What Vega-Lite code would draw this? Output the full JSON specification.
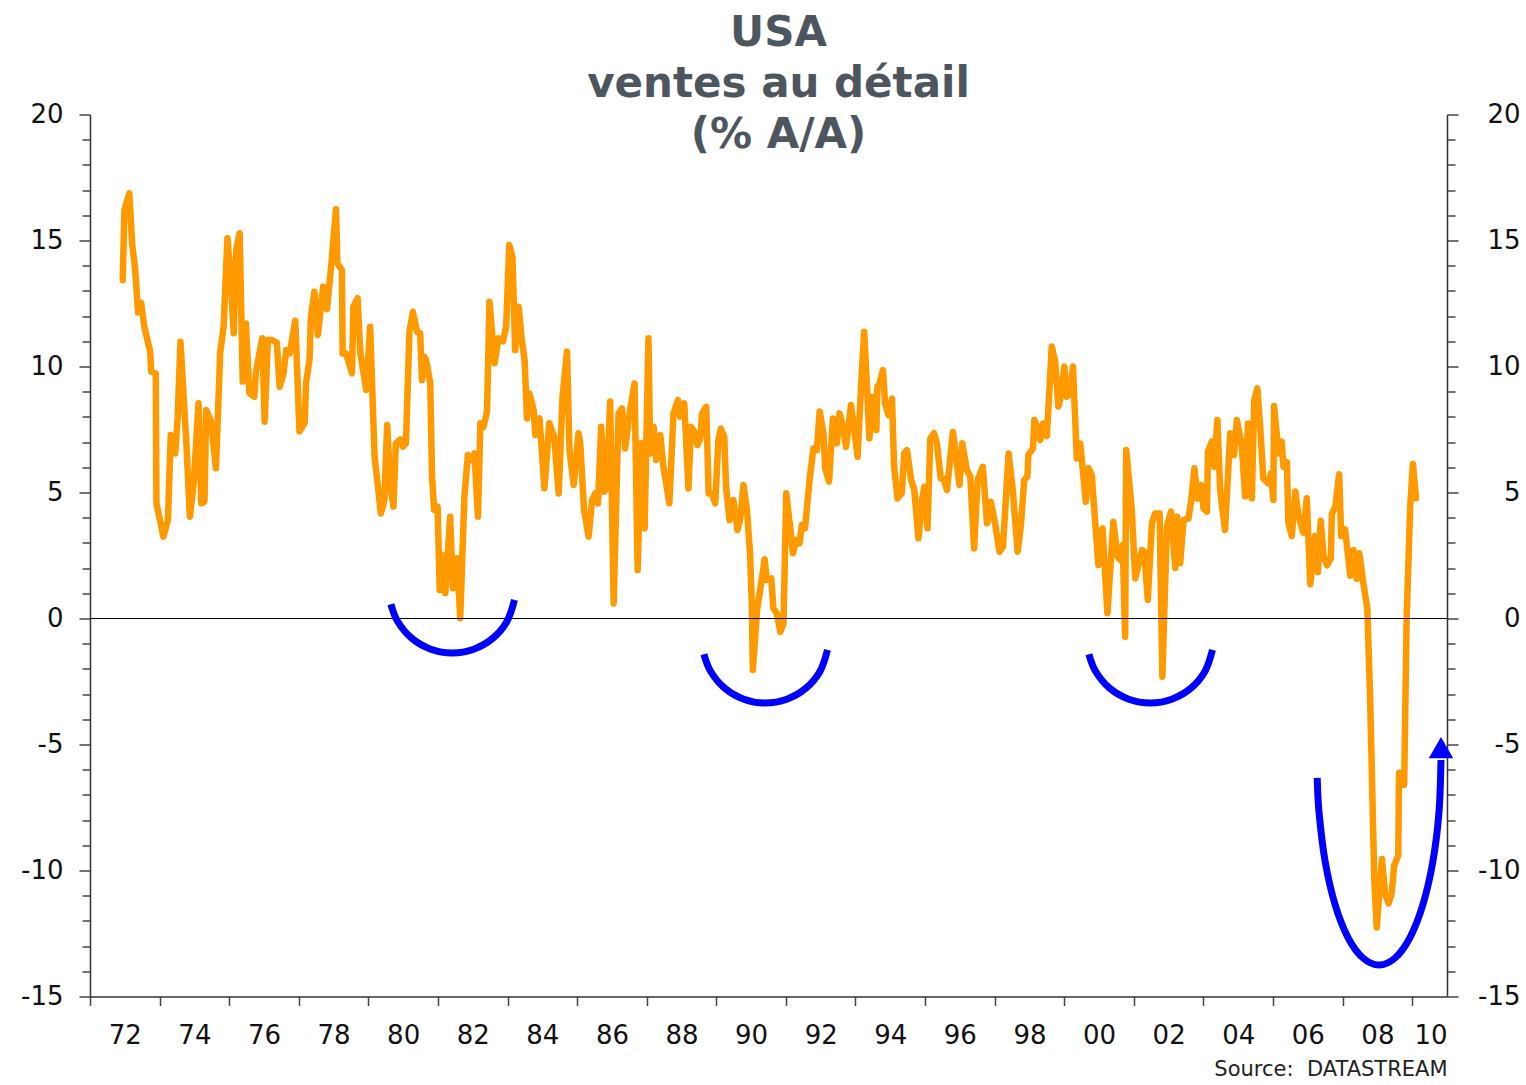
{
  "$schema": "https://vega.github.io/schema/vega-lite/v6.json",
  "width": 1357,
  "height": 882,
  "autosize": {"type": "none"},
  "padding": {"left": 90, "top": 114.5, "right": 79, "bottom": 88.5},
  "background": "white",
  "title": {
    "text": ["USA", "ventes au détail", "(% A/A)"],
    "font": "DejaVu Sans",
    "fontSize": 42,
    "fontWeight": "bold",
    "color": "#4d565e",
    "lineHeight": 51,
    "anchor": "middle",
    "frame": "group",
    "baseline": "alphabetic",
    "offset": 0,
    "dx": 10,
    "dy": 88
  },
  "datasets": {
    "sales": [
      {"t":1972.94,"v":13.43},{"t":1972.99,"v":16.21},{"t":1973.13,"v":16.87},{"t":1973.21,"v":14.89},{"t":1973.30,"v":13.83},{"t":1973.38,"v":12.14},{"t":1973.47,"v":12.53},{"t":1973.56,"v":11.58},{"t":1973.73,"v":10.59},{"t":1973.76,"v":9.79},{"t":1973.89,"v":9.73},{"t":1973.91,"v":4.57},{"t":1973.97,"v":4.17},{"t":1974.11,"v":3.25},{"t":1974.24,"v":3.91},{"t":1974.32,"v":7.28},{"t":1974.45,"v":6.55},{"t":1974.52,"v":8.0},{"t":1974.60,"v":10.98},{"t":1974.77,"v":6.95},{"t":1974.87,"v":4.04},{"t":1974.98,"v":5.37},{"t":1975.12,"v":8.54},{"t":1975.20,"v":4.57},{"t":1975.29,"v":4.64},{"t":1975.34,"v":8.27},{"t":1975.48,"v":7.81},{"t":1975.62,"v":5.96},{"t":1975.74,"v":10.52},{"t":1975.84,"v":11.58},{"t":1975.95,"v":15.09},{"t":1976.05,"v":13.30},{"t":1976.13,"v":11.32},{"t":1976.20,"v":14.62},{"t":1976.30,"v":15.29},{"t":1976.39,"v":9.40},{"t":1976.48,"v":11.71},{"t":1976.58,"v":8.94},{"t":1976.72,"v":8.80},{"t":1976.77,"v":9.79},{"t":1976.95,"v":11.12},{"t":1977.02,"v":7.81},{"t":1977.11,"v":11.05},{"t":1977.23,"v":11.05},{"t":1977.37,"v":10.94},{"t":1977.45,"v":9.19},{"t":1977.56,"v":9.72},{"t":1977.64,"v":10.65},{"t":1977.74,"v":10.52},{"t":1977.90,"v":11.82},{"t":1978.02,"v":7.43},{"t":1978.17,"v":7.77},{"t":1978.21,"v":9.35},{"t":1978.31,"v":10.28},{"t":1978.35,"v":11.98},{"t":1978.45,"v":12.97},{"t":1978.55,"v":11.25},{"t":1978.70,"v":13.17},{"t":1978.81,"v":12.27},{"t":1978.93,"v":13.96},{"t":1979.07,"v":16.24},{"t":1979.11,"v":14.10},{"t":1979.24,"v":13.83},{"t":1979.26,"v":10.52},{"t":1979.36,"v":10.52},{"t":1979.53,"v":9.73},{"t":1979.57,"v":12.37},{"t":1979.69,"v":12.71},{"t":1979.77,"v":10.52},{"t":1979.94,"v":9.07},{"t":1980.05,"v":11.58},{"t":1980.18,"v":6.42},{"t":1980.36,"v":4.17},{"t":1980.46,"v":4.70},{"t":1980.54,"v":7.68},{"t":1980.63,"v":5.37},{"t":1980.72,"v":4.44},{"t":1980.79,"v":6.95},{"t":1980.92,"v":7.11},{"t":1980.99,"v":6.82},{"t":1981.08,"v":6.95},{"t":1981.18,"v":11.38},{"t":1981.28,"v":12.17},{"t":1981.40,"v":11.38},{"t":1981.49,"v":11.32},{"t":1981.54,"v":9.46},{"t":1981.61,"v":10.39},{"t":1981.66,"v":10.26},{"t":1981.78,"v":9.33},{"t":1981.83,"v":5.63},{"t":1981.89,"v":4.31},{"t":1981.99,"v":4.44},{"t":1982.05,"v":1.13},{"t":1982.11,"v":2.52},{"t":1982.21,"v":1.0},{"t":1982.35,"v":4.04},{"t":1982.43,"v":1.2},{"t":1982.55,"v":2.39},{"t":1982.64,"v":0.01},{"t":1982.76,"v":4.83},{"t":1982.86,"v":6.49},{"t":1982.98,"v":6.29},{"t":1983.05,"v":6.55},{"t":1983.15,"v":4.04},{"t":1983.22,"v":7.75},{"t":1983.31,"v":7.61},{"t":1983.41,"v":8.21},{"t":1983.48,"v":12.57},{"t":1983.63,"v":10.13},{"t":1983.74,"v":11.12},{"t":1983.87,"v":11.0},{"t":1983.96,"v":11.6},{"t":1984.05,"v":14.82},{"t":1984.14,"v":14.36},{"t":1984.22,"v":10.65},{"t":1984.32,"v":12.37},{"t":1984.41,"v":11.05},{"t":1984.49,"v":10.26},{"t":1984.56,"v":7.94},{"t":1984.63,"v":8.93},{"t":1984.75,"v":8.27},{"t":1984.80,"v":7.28},{"t":1984.92,"v":7.94},{"t":1985.06,"v":5.17},{"t":1985.20,"v":7.75},{"t":1985.34,"v":7.22},{"t":1985.47,"v":4.96},{"t":1985.58,"v":8.8},{"t":1985.71,"v":10.59},{"t":1985.78,"v":6.68},{"t":1985.90,"v":5.3},{"t":1986.04,"v":7.35},{"t":1986.09,"v":6.95},{"t":1986.20,"v":4.31},{"t":1986.33,"v":3.25},{"t":1986.43,"v":4.7},{"t":1986.52,"v":4.96},{"t":1986.60,"v":4.57},{"t":1986.69,"v":7.61},{"t":1986.78,"v":5.03},{"t":1986.84,"v":5.16},{"t":1986.95,"v":8.61},{"t":1987.05,"v":0.6},{"t":1987.19,"v":8.14},{"t":1987.29,"v":8.34},{"t":1987.38,"v":6.75},{"t":1987.53,"v":8.34},{"t":1987.65,"v":9.33},{"t":1987.74,"v":1.92},{"t":1987.84,"v":6.95},{"t":1987.94,"v":3.58},{"t":1988.05,"v":11.12},{"t":1988.10,"v":6.55},{"t":1988.20,"v":7.61},{"t":1988.27,"v":6.29},{"t":1988.39,"v":7.28},{"t":1988.48,"v":6.02},{"t":1988.65,"v":4.57},{"t":1988.77,"v":8.14},{"t":1988.90,"v":8.67},{"t":1988.96,"v":8.01},{"t":1989.08,"v":8.54},{"t":1989.20,"v":5.16},{"t":1989.27,"v":7.61},{"t":1989.37,"v":7.41},{"t":1989.46,"v":6.88},{"t":1989.54,"v":7.15},{"t":1989.59,"v":8.14},{"t":1989.71,"v":8.4},{"t":1989.78,"v":4.96},{"t":1989.87,"v":4.96},{"t":1989.97,"v":4.57},{"t":1990.06,"v":7.09},{"t":1990.13,"v":7.54},{"t":1990.23,"v":7.2},{"t":1990.28,"v":5.23},{"t":1990.38,"v":3.9},{"t":1990.49,"v":4.7},{"t":1990.61,"v":3.51},{"t":1990.69,"v":3.97},{"t":1990.78,"v":5.3},{"t":1990.88,"v":4.31},{"t":1990.97,"v":2.59},{"t":1991.02,"v":0.6},{"t":1991.05,"v":-2.04},{"t":1991.17,"v":0.33},{"t":1991.26,"v":1.13},{"t":1991.39,"v":2.35},{"t":1991.45,"v":1.53},{"t":1991.58,"v":1.59},{"t":1991.64,"v":0.4},{"t":1991.74,"v":0.2},{"t":1991.84,"v":-0.53},{"t":1991.93,"v":-0.2},{"t":1992.01,"v":4.97},{"t":1992.12,"v":3.65},{"t":1992.20,"v":2.59},{"t":1992.30,"v":3.12},{"t":1992.39,"v":2.98},{"t":1992.46,"v":3.71},{"t":1992.55,"v":3.58},{"t":1992.68,"v":5.5},{"t":1992.79,"v":6.75},{"t":1992.89,"v":6.68},{"t":1992.97,"v":8.21},{"t":1993.08,"v":7.35},{"t":1993.13,"v":5.96},{"t":1993.24,"v":5.43},{"t":1993.35,"v":7.94},{"t":1993.47,"v":6.95},{"t":1993.54,"v":8.14},{"t":1993.64,"v":7.61},{"t":1993.73,"v":6.81},{"t":1993.87,"v":8.47},{"t":1993.94,"v":7.75},{"t":1994.06,"v":6.42},{"t":1994.16,"v":9.2},{"t":1994.25,"v":11.38},{"t":1994.33,"v":9.2},{"t":1994.40,"v":7.15},{"t":1994.47,"v":8.8},{"t":1994.60,"v":7.48},{"t":1994.63,"v":9.2},{"t":1994.69,"v":9.33},{"t":1994.79,"v":9.86},{"t":1994.85,"v":8.54},{"t":1994.95,"v":8.07},{"t":1995.05,"v":8.73},{"t":1995.11,"v":6.02},{"t":1995.21,"v":4.76},{"t":1995.33,"v":4.96},{"t":1995.40,"v":6.55},{"t":1995.48,"v":6.68},{"t":1995.60,"v":5.5},{"t":1995.69,"v":5.1},{"t":1995.81,"v":3.18},{"t":1995.91,"v":4.7},{"t":1995.98,"v":5.23},{"t":1996.07,"v":3.58},{"t":1996.15,"v":7.15},{"t":1996.26,"v":7.35},{"t":1996.34,"v":6.95},{"t":1996.45,"v":5.56},{"t":1996.53,"v":5.56},{"t":1996.63,"v":5.1},{"t":1996.80,"v":7.4},{"t":1996.99,"v":5.3},{"t":1997.07,"v":6.95},{"t":1997.20,"v":5.89},{"t":1997.30,"v":5.63},{"t":1997.41,"v":2.78},{"t":1997.51,"v":5.5},{"t":1997.66,"v":6.02},{"t":1997.78,"v":3.78},{"t":1997.89,"v":4.63},{"t":1998.01,"v":3.78},{"t":1998.14,"v":2.65},{"t":1998.24,"v":2.85},{"t":1998.40,"v":6.55},{"t":1998.52,"v":5.1},{"t":1998.66,"v":2.65},{"t":1998.75,"v":3.65},{"t":1998.85,"v":5.5},{"t":1998.94,"v":5.63},{"t":1998.97,"v":6.49},{"t":1999.10,"v":6.75},{"t":1999.14,"v":7.88},{"t":1999.24,"v":7.55},{"t":1999.31,"v":7.08},{"t":1999.39,"v":7.74},{"t":1999.50,"v":7.24},{"t":1999.64,"v":10.79},{"t":1999.74,"v":10.19},{"t":1999.83,"v":8.41},{"t":1999.93,"v":9.0},{"t":2000.00,"v":10.0},{"t":2000.07,"v":8.8},{"t":2000.17,"v":8.93},{"t":2000.25,"v":10.0},{"t":2000.36,"v":6.35},{"t":2000.46,"v":6.95},{"t":2000.62,"v":4.63},{"t":2000.70,"v":5.96},{"t":2000.79,"v":5.7},{"t":2000.98,"v":2.12},{"t":2001.10,"v":3.57},{"t":2001.24,"v":0.21},{"t":2001.41,"v":3.84},{"t":2001.53,"v":2.46},{"t":2001.61,"v":2.33},{"t":2001.68,"v":2.92},{"t":2001.75,"v":-0.72},{"t":2001.78,"v":6.69},{"t":2001.94,"v":4.31},{"t":2002.04,"v":1.59},{"t":2002.13,"v":2.12},{"t":2002.23,"v":2.72},{"t":2002.30,"v":2.65},{"t":2002.40,"v":0.74},{"t":2002.52,"v":3.78},{"t":2002.61,"v":4.17},{"t":2002.74,"v":4.17},{"t":2002.82,"v":-2.31},{"t":2002.95,"v":3.65},{"t":2003.07,"v":4.24},{"t":2003.19,"v":2.0},{"t":2003.24,"v":4.04},{"t":2003.33,"v":2.19},{"t":2003.43,"v":3.91},{"t":2003.57,"v":3.97},{"t":2003.65,"v":4.7},{"t":2003.74,"v":5.96},{"t":2003.83,"v":4.76},{"t":2003.93,"v":5.3},{"t":2004.00,"v":4.37},{"t":2004.10,"v":4.24},{"t":2004.13,"v":6.62},{"t":2004.24,"v":7.02},{"t":2004.31,"v":6.02},{"t":2004.40,"v":7.88},{"t":2004.48,"v":5.1},{"t":2004.62,"v":3.51},{"t":2004.77,"v":7.35},{"t":2004.88,"v":6.49},{"t":2004.96,"v":7.88},{"t":2005.10,"v":6.88},{"t":2005.20,"v":4.84},{"t":2005.28,"v":7.74},{"t":2005.39,"v":4.77},{"t":2005.46,"v":8.67},{"t":2005.55,"v":9.13},{"t":2005.65,"v":7.22},{"t":2005.72,"v":5.56},{"t":2005.87,"v":5.36},{"t":2005.94,"v":5.76},{"t":2006.01,"v":4.7},{"t":2006.03,"v":8.43},{"t":2006.16,"v":6.55},{"t":2006.25,"v":7.02},{"t":2006.30,"v":6.02},{"t":2006.40,"v":6.2},{"t":2006.44,"v":3.81},{"t":2006.54,"v":3.27},{"t":2006.64,"v":5.04},{"t":2006.73,"v":4.08},{"t":2006.87,"v":3.41},{"t":2006.97,"v":4.77},{"t":2007.07,"v":1.36},{"t":2007.21,"v":3.27},{"t":2007.29,"v":1.84},{"t":2007.37,"v":3.88},{"t":2007.45,"v":2.52},{"t":2007.55,"v":2.11},{"t":2007.66,"v":2.38},{"t":2007.69,"v":4.15},{"t":2007.79,"v":4.43},{"t":2007.90,"v":5.72},{"t":2007.96,"v":3.27},{"t":2008.07,"v":3.54},{"t":2008.22,"v":1.7},{"t":2008.31,"v":2.72},{"t":2008.41,"v":1.57},{"t":2008.48,"v":2.59},{"t":2008.60,"v":1.36},{"t":2008.71,"v":0.41},{"t":2008.79,"v":-3.13},{"t":2008.87,"v":-7.9},{"t":2008.91,"v":-10.35},{"t":2008.98,"v":-12.26},{"t":2009.13,"v":-9.54},{"t":2009.22,"v":-10.9},{"t":2009.32,"v":-11.31},{"t":2009.41,"v":-10.9},{"t":2009.48,"v":-9.81},{"t":2009.60,"v":-9.4},{"t":2009.62,"v":-6.13},{"t":2009.70,"v":-6.13},{"t":2009.77,"v":-6.61},{"t":2009.84,"v":0},{"t":2009.94,"v":4.36},{"t":2010.02,"v":6.13},{"t":2010.11,"v":4.77}
    ],
    "arcs": [
      {"arc":"a1","t":1980.648,"v":0.567},{"arc":"a1","t":1980.843,"v":-0.119},{"arc":"a1","t":1981.248,"v":-0.786},{"arc":"a1","t":1981.794,"v":-1.218},{"arc":"a1","t":1982.412,"v":-1.369},{"arc":"a1","t":1983.030,"v":-1.218},{"arc":"a1","t":1983.576,"v":-0.786},{"arc":"a1","t":1983.982,"v":-0.119},{"arc":"a1","t":1984.200,"v":0.738},
      {"arc":"a2","t":1989.644,"v":-1.417},{"arc":"a2","t":1989.839,"v":-2.103},{"arc":"a2","t":1990.244,"v":-2.770},{"arc":"a2","t":1990.790,"v":-3.202},{"arc":"a2","t":1991.408,"v":-3.353},{"arc":"a2","t":1992.026,"v":-3.202},{"arc":"a2","t":1992.572,"v":-2.770},{"arc":"a2","t":1992.978,"v":-2.103},{"arc":"a2","t":1993.196,"v":-1.246},
      {"arc":"a3","t":2000.708,"v":-1.417},{"arc":"a3","t":2000.903,"v":-2.103},{"arc":"a3","t":2001.308,"v":-2.770},{"arc":"a3","t":2001.854,"v":-3.202},{"arc":"a3","t":2002.472,"v":-3.353},{"arc":"a3","t":2003.090,"v":-3.202},{"arc":"a3","t":2003.636,"v":-2.770},{"arc":"a3","t":2004.042,"v":-2.103},{"arc":"a3","t":2004.260,"v":-1.246},
      {"arc":"u","t":2007.270,"v":-6.325},{"arc":"u","t":2007.324,"v":-7.722},{"arc":"u","t":2007.503,"v":-9.683},{"arc":"u","t":2007.787,"v":-11.369},{"arc":"u","t":2008.155,"v":-12.659},{"arc":"u","t":2008.586,"v":-13.472},{"arc":"u","t":2009.046,"v":-13.750},{"arc":"u","t":2009.505,"v":-13.472},{"arc":"u","t":2009.936,"v":-12.659},{"arc":"u","t":2010.304,"v":-11.369},{"arc":"u","t":2010.589,"v":-9.683},{"arc":"u","t":2010.767,"v":-7.722},{"arc":"u","t":2010.827,"v":-5.615}
    ],
    "arrow": [{"t": 2010.827, "v": -5.12}],
    "zero": [{"z": 0}]
  },
  "layer": [
    {
      "data": {"name": "sales"},
      "mark": {"type": "line", "color": "#FF9900", "strokeWidth": 6.5, "strokeJoin": "round", "strokeCap": "round"},
      "encoding": {
        "x": {
          "field": "t", "type": "quantitative",
          "scale": {"domain": [1972, 2011], "nice": false, "zero": false},
          "axis": {
            "orient": "bottom",
            "values": [1973,1975,1977,1979,1981,1983,1985,1987,1989,1991,1993,1995,1997,1999,2001,2003,2005,2007,2009,2011],
            "tickOffset": -34.795,
            "labelOffset": 34.795,
            "labelFlush": true,
            "labelOverlap": false,
            "labelExpr": "(datum.value - 1) % 100 < 10 ? '0' + ((datum.value - 1) % 100) : '' + ((datum.value - 1) % 100)",
            "tickSize": 9,
            "labelPadding": 17,
            "title": "Source:\u00a0 DATASTREAM",
            "titleAnchor": "end",
            "titleAlign": "right",
            "titleFont": "DejaVu Sans",
            "titleFontSize": 21,
            "titleFontWeight": "normal",
            "titleColor": "#222222",
            "titlePadding": 10
          }
        },
        "y": {
          "field": "v", "type": "quantitative",
          "scale": {"domain": [-15, 20], "nice": false, "zero": false},
          "axis": {
            "orient": "left",
            "values": [-15,-14,-13,-12,-11,-10,-9,-8,-7,-6,-5,-4,-3,-2,-1,0,1,2,3,4,5,6,7,8,9,10,11,12,13,14,15,16,17,18,19,20],
            "labelExpr": "datum.value % 5 === 0 ? '' + datum.value : ''",
            "labelOverlap": false,
            "tickSize": {"condition": {"test": "datum.value % 5 === 0", "value": 11}, "value": 8},
            "labelPadding": 16,
            "title": null
          }
        }
      }
    },
    {
      "data": {"name": "zero"},
      "mark": {"type": "rule", "color": "#000000", "strokeWidth": 1.2},
      "encoding": {
        "y": {
          "field": "z", "type": "quantitative",
          "scale": {"domain": [-15, 20], "nice": false, "zero": false},
          "axis": {
            "orient": "right",
            "values": [-15,-14,-13,-12,-11,-10,-9,-8,-7,-6,-5,-4,-3,-2,-1,0,1,2,3,4,5,6,7,8,9,10,11,12,13,14,15,16,17,18,19,20],
            "labelExpr": "datum.value % 5 === 0 ? '' + datum.value : ''",
            "labelOverlap": false,
            "labelAlign": "right",
            "tickSize": {"condition": {"test": "datum.value % 5 === 0", "value": 11}, "value": 8},
            "labelPadding": 62,
            "title": null
          }
        }
      }
    },
    {
      "data": {"name": "arcs"},
      "mark": {"type": "line", "color": "#0000FF", "strokeWidth": 7, "interpolate": "cardinal", "tension": 0, "strokeCap": "butt"},
      "encoding": {
        "x": {"field": "t", "type": "quantitative", "scale": {"domain": [1972, 2011], "nice": false, "zero": false}},
        "y": {"field": "v", "type": "quantitative", "scale": {"domain": [-15, 20], "nice": false, "zero": false}, "axis": null},
        "detail": {"field": "arc", "type": "nominal"}
      }
    },
    {
      "data": {"name": "arrow"},
      "mark": {"type": "point", "shape": "triangle-up", "filled": true, "color": "#0000FF", "size": 600, "opacity": 1},
      "encoding": {
        "x": {"field": "t", "type": "quantitative", "scale": {"domain": [1972, 2011], "nice": false, "zero": false}},
        "y": {"field": "v", "type": "quantitative", "scale": {"domain": [-15, 20], "nice": false, "zero": false}, "axis": null}
      }
    }
  ],
  "resolve": {"axis": {"y": "independent"}},
  "config": {
    "view": {"stroke": null},
    "axis": {
      "grid": false,
      "domainColor": "#333333",
      "domainWidth": 1.5,
      "tickColor": "#444444",
      "tickWidth": 1.5,
      "labelFont": "DejaVu Sans",
      "labelFontSize": 26,
      "labelColor": "#111111"
    }
  }
}
